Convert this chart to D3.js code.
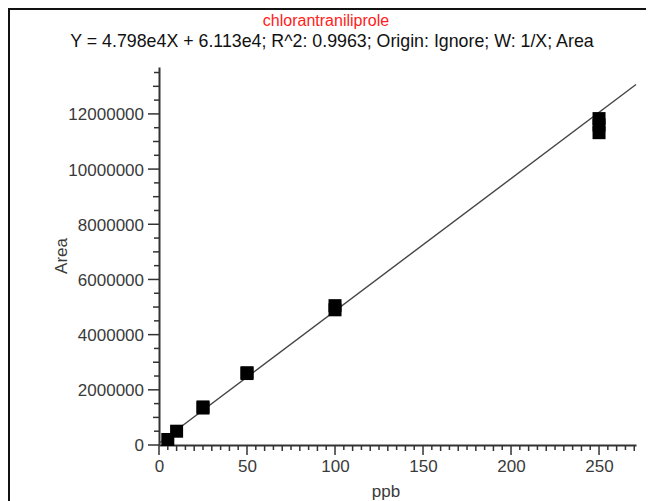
<!DOCTYPE html>
<html>
<head>
<meta charset="utf-8">
<script src="https://cdn.jsdelivr.net/npm/d3@7"></script>
<style>
  body { margin: 0; background: #fff; }
  svg { display: block; font-family: "Liberation Sans", Arial, sans-serif; }
</style>
</head>
<body>
<svg></svg>
<script>
// calibration levels (ppb) and measured areas, replicates overlap
let levels = [5, 10, 25, 25, 50, 50, 100, 100, 250, 250, 250];
let areas = [200000, 500000, 1380000, 1340000, 2620000, 2590000, 5050000, 4900000, 11830000, 11600000, 11320000];

let slope = 4.798e4;
let intercept = 6.113e4;

let xTicks = [0, 50, 100, 150, 200, 250];
let yTicks = [0, 2000000, 4000000, 6000000, 8000000, 10000000, 12000000];

let title = "chlorantraniliprole";
let subtitle = "Y = 4.798e4X + 6.113e4; R^2: 0.9963; Origin: Ignore; W: 1/X; Area";

let width = 651;
let height = 501;
let plotLeft = 159, plotRight = 636, plotTop = 67, plotBottom = 445;

let svg = d3.select("svg").attr("width", width).attr("height", height);

// frame edges of the cropped screenshot
svg.append("line").attr("x1", 9).attr("x2", 646).attr("y1", 9).attr("y2", 9)
  .attr("stroke", "#111").attr("stroke-width", 2);
svg.append("line").attr("x1", 9).attr("x2", 9).attr("y1", 8).attr("y2", height)
  .attr("stroke", "#111").attr("stroke-width", 2);

let xScale = d3.scaleLinear().domain([0, 271]).range([plotLeft, plotRight]);
let yScale = d3.scaleLinear().domain([0, 13.7e6]).range([plotBottom, plotTop]);

// minor ticks
let xMinor = d3.range(0, 271, 5);
let yMinor = d3.range(0, 13.7e6, 500000);

let axisColor = "#333";

svg.append("g").selectAll("line").data(xMinor).enter().append("line")
  .attr("x1", d => xScale(d)).attr("x2", d => xScale(d))
  .attr("y1", plotBottom)
  .attr("y2", d => plotBottom + (d % 50 === 0 ? 10 : d % 10 === 0 ? 6 : 5))
  .attr("stroke", axisColor).attr("stroke-width", 1.5);

svg.append("g").selectAll("line").data(yMinor).enter().append("line")
  .attr("y1", d => yScale(d)).attr("y2", d => yScale(d))
  .attr("x1", plotLeft)
  .attr("x2", d => plotLeft - (d % 2000000 === 0 ? 11 : d % 1000000 === 0 ? 6 : 5))
  .attr("stroke", axisColor).attr("stroke-width", 1.5);

let xAxis = d3.axisBottom(xScale).tickValues(xTicks).tickSize(0).tickPadding(15);
let yAxis = d3.axisLeft(yScale).tickValues(yTicks).tickSize(0).tickPadding(15)
  .tickFormat(d3.format("d"));

let gx = svg.append("g").attr("transform", "translate(0," + plotBottom + ")").call(xAxis);
let gy = svg.append("g").attr("transform", "translate(" + plotLeft + ",0)").call(yAxis);

[gx, gy].forEach(g => {
  g.select(".domain").attr("stroke", axisColor).attr("stroke-width", 2);
  g.selectAll("text").attr("fill", "#3a3a3a").style("font-size", "17px")
    .style("font-family", "'Liberation Sans', Arial, sans-serif");
});
gy.selectAll("text").attr("dy", "0.35em");

// regression line
let fitX = [0, 271];
svg.append("line")
  .attr("x1", xScale(fitX[0])).attr("y1", yScale(slope * fitX[0] + intercept))
  .attr("x2", xScale(fitX[1])).attr("y2", yScale(slope * fitX[1] + intercept))
  .attr("stroke", "#444").attr("stroke-width", 1.4);

// points
let s = 13;
svg.append("g").selectAll("rect").data(levels).enter().append("rect")
  .attr("x", d => xScale(d) - s / 2)
  .attr("y", (d, i) => yScale(areas[i]) - s / 2)
  .attr("width", s).attr("height", s)
  .attr("fill", "#000");

// texts
svg.append("text").attr("x", 326).attr("y", 26).attr("text-anchor", "middle")
  .attr("fill", "#ff2020").style("font-size", "16px").text(title);
svg.append("text").attr("x", 332).attr("y", 47).attr("text-anchor", "middle")
  .attr("fill", "#111").style("font-size", "17.8px").text(subtitle);

svg.append("text").attr("x", 386).attr("y", 497).attr("text-anchor", "middle")
  .attr("fill", "#3a3a3a").style("font-size", "17px").text("ppb");
svg.append("text").attr("transform", "translate(67,256) rotate(-90)")
  .attr("text-anchor", "middle").attr("fill", "#3a3a3a").style("font-size", "17px").text("Area");
</script>
</body>
</html>
